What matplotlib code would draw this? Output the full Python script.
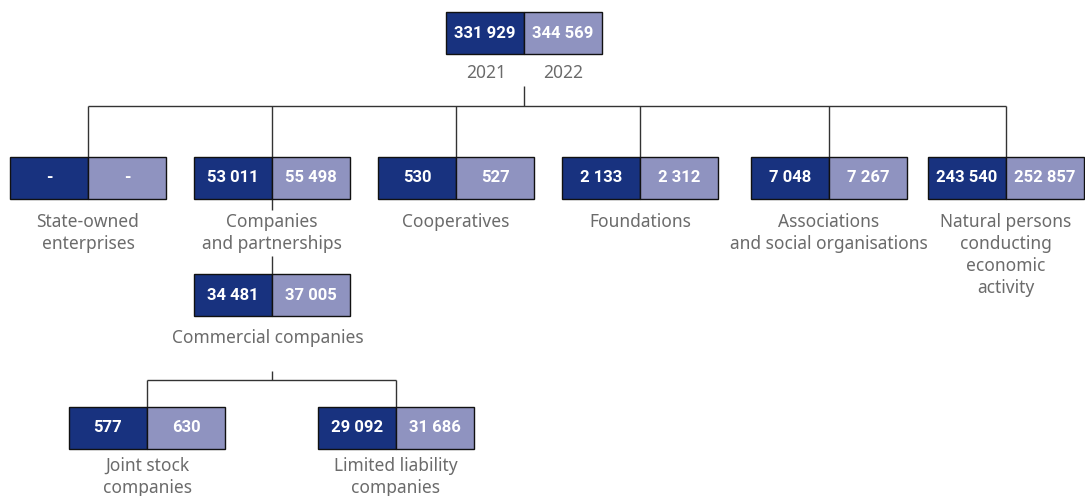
import matplotlib
matplotlib.use('Agg')
import matplotlib.pyplot as plt
from matplotlib.patches import Rectangle

plt.rcParams['font.family'] = ['Noto Sans', 'DejaVu Sans']

# data
years = ['2021', '2022']
total = ['331 929', '344 569']
categories = ['State-owned\nenterprises', 'Companies\nand partnerships', 'Cooperatives',
              'Foundations', 'Associations\nand social organisations',
              'Natural persons\nconducting\neconomic\nactivity']
values_2021 = ['-', '53 011', '530', '2 133', '7 048', '243 540']
values_2022 = ['-', '55 498', '527', '2 312', '7 267', '252 857']
commercial = ['34 481', '37 005']
sub_categories = ['Joint stock\ncompanies', 'Limited liability\ncompanies']
sub_2021 = ['577', '29 092']
sub_2022 = ['630', '31 686']

DARK = '#18327f'
LIGHT = '#8f93c0'
LINE = '#333333'
GREY = '#6b6b6b'
W = 78   # half box width
H = 42   # box height
VAL_FONT = ['Roboto', 'DejaVu Sans']

fig = plt.figure(figsize=(10.85, 4.96), dpi=100)
ax = fig.add_axes([0, 0, 1, 1])
ax.set_xlim(0, 1085)
ax.set_ylim(496, 0)
ax.axis('off')


def box(xs, y, v1, v2):
    # xs is the split position, y is the top edge
    ax.add_patch(Rectangle((xs - W, y), W, H, facecolor=DARK, edgecolor='#111111', lw=1, zorder=3))
    ax.add_patch(Rectangle((xs, y), W, H, facecolor=LIGHT, edgecolor='#111111', lw=1, zorder=3))
    ax.text(xs - W / 2, y + H / 2, v1, color='white', fontsize=12, fontweight='bold',
            family=VAL_FONT, ha='center', va='center', zorder=4)
    ax.text(xs + W / 2, y + H / 2, v2, color='white', fontsize=12, fontweight='bold',
            family=VAL_FONT, ha='center', va='center', zorder=4)


def line(x0, y0, x1, y1):
    ax.plot([x0, x1], [y0, y1], color=LINE, lw=1, zorder=1, solid_capstyle='butt')


def label(x, y, s):
    # one line at a time, 22 px apart
    for i, part in enumerate(s.split('\n')):
        ax.text(x, y + 22 * i, part, color=GREY, fontsize=12.5, ha='center', va='center')


# top
box(524, 12, total[0], total[1])
ax.text(486, 73, years[0], color=GREY, fontsize=12.5, ha='center', va='center')
ax.text(563, 73, years[1], color=GREY, fontsize=12.5, ha='center', va='center')
line(524, 86, 524, 106)

splits = [88, 272, 456, 640, 829, 1006]
line(splits[0], 106, splits[-1], 106)
for xs, cat, v1, v2 in zip(splits, categories, values_2021, values_2022):
    line(xs, 106, xs, 157)
    box(xs, 157, v1, v2)
    label(xs, 222, cat)

# commercial companies branch
line(272, 199, 272, 210)
line(272, 256, 272, 274)
box(272, 274, commercial[0], commercial[1])
label(268, 338, 'Commercial companies')

line(272, 371, 272, 380)
sub_splits = [147, 396]
line(sub_splits[0], 380, sub_splits[1], 380)
for xs, cat, v1, v2 in zip(sub_splits, sub_categories, sub_2021, sub_2022):
    line(xs, 380, xs, 407)
    box(xs, 407, v1, v2)
    label(xs, 466, cat)

fig.savefig('out.png', dpi=100)
